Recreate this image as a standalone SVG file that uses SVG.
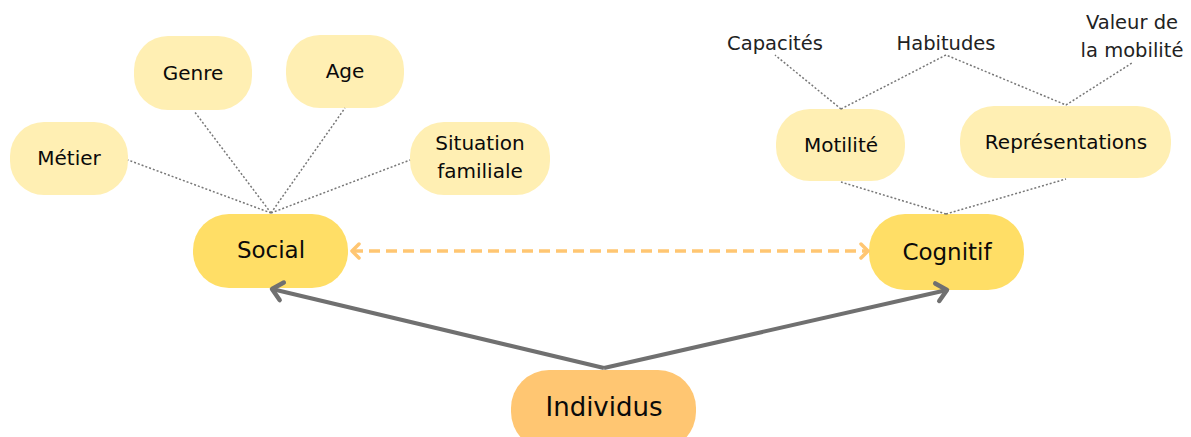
<svg xmlns="http://www.w3.org/2000/svg" width="1191" height="437" viewBox="0 0 1191 437">
<defs>
<style>
text{font-family:"DejaVu Sans","Noto Sans",sans-serif;fill:#0a0a0a;text-anchor:middle;dominant-baseline:central}
.l{fill:#FFEFB3}
.m{fill:#FFDE66}
.i{fill:#FFC672}
.s{font-size:20px}
.t{font-size:19.5px;fill:#222}
.d{stroke:#777;stroke-width:1.5;stroke-dasharray:2 2;fill:none}
</style>
<marker id="og" viewBox="0 0 20 20" refX="15" refY="10" markerWidth="20" markerHeight="20" orient="auto-start-reverse" markerUnits="userSpaceOnUse">
<path d="M8,3 L15,10 L8,17" fill="none" stroke="#FFC672" stroke-width="3.5" stroke-linecap="round" stroke-linejoin="round"/>
</marker>
<marker id="gr" viewBox="0 0 24 24" refX="19" refY="12" markerWidth="24" markerHeight="24" orient="auto" markerUnits="userSpaceOnUse">
<path d="M9,3 L19,12 L9,21" fill="none" stroke="#707070" stroke-width="4.5" stroke-linecap="round" stroke-linejoin="round"/>
</marker>
</defs>
<rect width="1191" height="437" fill="#fff"/>
<g id="metier"><rect class="l" x="10" y="122" width="118" height="73" rx="34"/><text class="s" x="69" y="158">Métier</text></g>
<g id="genre"><rect class="l" x="134" y="36" width="118" height="74" rx="34"/><text class="s" x="193" y="73">Genre</text></g>
<g id="age"><rect class="l" x="286" y="35" width="118" height="73" rx="34"/><text class="s" x="345" y="71">Age</text></g>
<g id="situation"><rect class="l" x="410" y="122" width="140" height="73" rx="34"/><text class="s" x="480" y="143">Situation</text><text class="s" x="480" y="171">familiale</text></g>
<g id="social"><rect class="m" x="193" y="214" width="155" height="74" rx="36"/><text x="271" y="250" font-size="23">Social</text></g>
<g id="cognitif"><rect class="m" x="869" y="214" width="155" height="76" rx="36"/><text x="947" y="252" font-size="23">Cognitif</text></g>
<g id="motilite"><rect class="l" x="776" y="109" width="129" height="72" rx="34"/><text class="s" x="841" y="145">Motilité</text></g>
<g id="representations"><rect class="l" x="960" y="106" width="211" height="72" rx="34"/><text class="s" x="1066" y="142">Représentations</text></g>
<g id="capacites"><text class="t" x="775" y="43">Capacités</text></g>
<g id="habitudes"><text class="t" x="946" y="43">Habitudes</text></g>
<g id="valeur"><text class="t" x="1132" y="22">Valeur de</text><text class="t" x="1132" y="50">la mobilité</text></g>
<g id="individus"><rect class="i" x="511" y="370" width="185" height="80" rx="38"/><text x="604" y="407" font-size="26">Individus</text></g>
<g id="connectors">
<path class="d" d="M271,213 L128,160 M271,213 L194,111 M271,213 L345,108 M271,213 L410,160"/>
<path class="d" d="M946,214 L841,182 M946,214 L1066,179"/>
<path class="d" d="M841,109 L775,55 M841,109 L946,55 L1066,105 L1132,63"/>
<line x1="352" y1="251" x2="868" y2="251" stroke="#FFC672" stroke-width="3.5" stroke-dasharray="11 6" marker-start="url(#og)" marker-end="url(#og)"/>
<line x1="604" y1="368" x2="272" y2="289" stroke="#707070" stroke-width="4" marker-end="url(#gr)"/>
<line x1="604" y1="368" x2="947" y2="290" stroke="#707070" stroke-width="4" marker-end="url(#gr)"/>
</g>
</svg>
